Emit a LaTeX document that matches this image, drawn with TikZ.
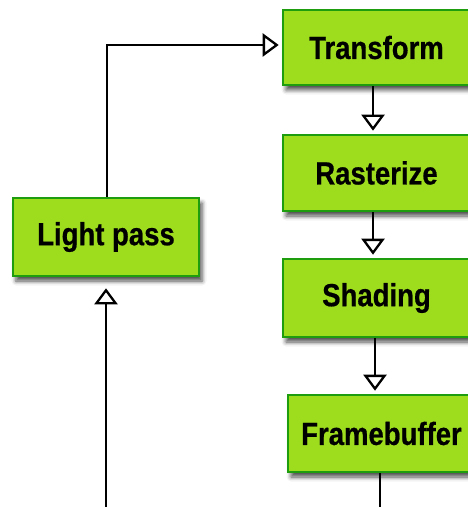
\documentclass[tikz,border=0pt]{standalone}
\usepackage{fontspec}
\setmainfont{Liberation Sans}
\newfontfamily\boxfont[FakeStretch=0.86,FakeBold=0.6]{Liberation Sans Bold}
\usetikzlibrary{arrows.meta,shadows.blur,calc}
\definecolor{boxfill}{RGB}{158,221,30}
\definecolor{boxline}{RGB}{30,158,14}
\tikzset{
  stagebox/.style={draw=boxline, line width=2.6bp, fill=boxfill, inner sep=0pt,
    font=\boxfont\fontsize{32bp}{34bp}\selectfont,
    blur shadow={shadow xshift=3bp, shadow yshift=-5bp, shadow blur radius=4.5bp, shadow opacity=70}},
  flow/.style={line width=2.3bp, draw=black, -{Triangle[open, length=16bp, width=23bp, line width=2.3bp]}},
  plain/.style={line width=2.3bp, draw=black}
}
\begin{document}
\begin{tikzpicture}[x=1bp, y=-1bp]
\useasboundingbox (0,0) rectangle (468,507);
\clip (0,0) rectangle (468,507);
\node[stagebox, minimum width=187bp, minimum height=75bp] (T) at (376.5,47.5) {Transform};
\node[stagebox, minimum width=187bp, minimum height=76bp] (R) at (376.5,173) {Rasterize};
\node[stagebox, minimum width=187bp, minimum height=78bp] (S) at (376.5,298) {Shading};
\node[stagebox, minimum width=187bp, minimum height=77bp] (F) at (381.5,433.5) {Framebuffer};
\node[stagebox, minimum width=186bp, minimum height=78bp] (L) at (106,237) {Light pass};
\coordinate (cx1) at (373,0);
\coordinate (cx2) at (375,0);
\coordinate (cx3) at (380,0);
\coordinate (cx4) at (107,0);
\coordinate (turn) at (107,45);
\coordinate (bot1) at (106,507);
\coordinate (bot2) at (380,507);
\draw[flow, shorten >=3bp] (L.north -| cx4) -- (turn) -- (T.west |- turn);
\draw[flow, shorten >=3bp] (T.south -| cx1) -- (R.north -| cx1);
\draw[flow, shorten >=3bp] (R.south -| cx1) -- (S.north -| cx1);
\draw[flow, shorten >=3bp] (S.south -| cx2) -- (F.north -| cx2);
\draw[plain] (F.south -| cx3) -- (bot2);
\draw[flow, shorten >=11bp] (bot1) -- (L.south -| bot1);
\end{tikzpicture}
\end{document}
